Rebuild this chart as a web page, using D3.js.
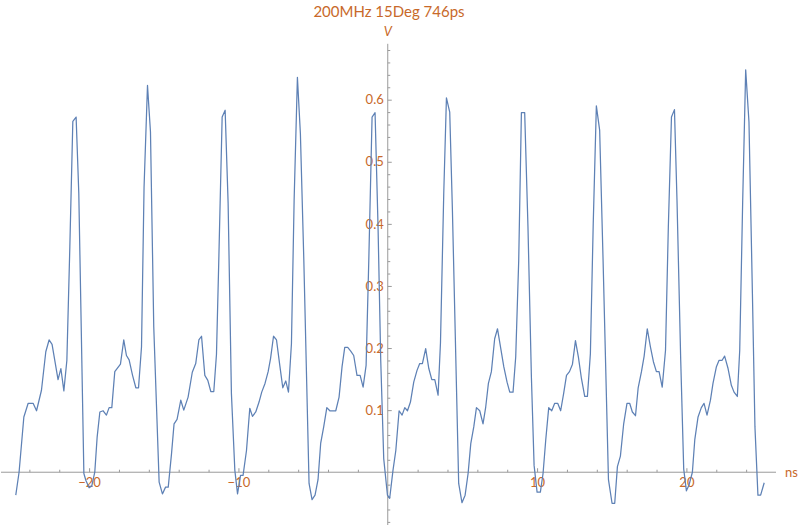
<!DOCTYPE html>
<html>
<head>
<meta charset="utf-8">
<script src="https://cdn.jsdelivr.net/npm/d3@7"></script>
<style>
  html, body { margin: 0; padding: 0; background: #fff; }
  svg { display: block; }
</style>
</head>
<body>
<svg id="chart" width="800" height="528"></svg>
<script>
// ---- data ----
const title = "200MHz 15Deg 746ps";
const xAxisLabel = "ns";
const yAxisLabel = "V";

const times = [-24.91,-24.69,-24.37,-24.08,-23.75,-23.52,-23.19,-22.90,-22.68,-22.48,-22.08,-21.89,-21.69,-21.49,-21.29,-21.09,-20.87,-20.69,-20.35,-20.22,-20.00,-19.82,-19.62,-19.46,-19.28,-19.06,-18.84,-18.66,-18.48,-18.28,-17.90,-17.68,-17.50,-17.32,-17.09,-16.87,-16.69,-16.49,-16.32,-16.09,-15.89,-15.67,-15.31,-15.09,-14.88,-14.70,-14.48,-14.31,-14.11,-13.86,-13.66,-13.37,-13.09,-12.86,-12.65,-12.47,-12.25,-12.05,-11.85,-11.65,-11.47,-11.32,-11.09,-10.89,-10.69,-10.47,-10.24,-10.06,-9.86,-9.69,-9.46,-9.24,-9.06,-8.84,-8.62,-8.44,-8.22,-8.01,-7.85,-7.65,-7.45,-7.23,-7.03,-6.83,-6.65,-6.45,-6.27,-6.05,-5.85,-5.62,-5.27,-5.07,-4.87,-4.67,-4.49,-4.29,-4.08,-3.88,-3.48,-3.26,-3.06,-2.88,-2.68,-2.48,-2.28,-2.06,-1.85,-1.65,-1.45,-1.27,-1.05,-0.85,-0.65,-0.47,-0.27,-0.02,0.13,0.35,0.54,0.76,0.96,1.14,1.32,1.52,1.74,1.96,2.14,2.32,2.54,2.75,2.95,3.15,3.37,3.53,3.75,3.93,4.15,4.33,4.75,4.97,5.18,5.38,5.56,5.76,5.94,6.16,6.38,6.56,6.74,6.94,7.16,7.35,7.55,7.77,7.99,8.17,8.39,8.57,8.77,8.95,9.17,9.39,9.62,9.80,10.00,10.22,10.40,10.58,10.78,10.98,11.18,11.38,11.58,11.78,11.97,12.17,12.37,12.57,12.77,12.97,13.19,13.37,13.57,13.76,13.97,14.19,14.42,14.78,15.02,15.20,15.38,15.58,15.80,16.02,16.20,16.38,16.59,16.77,16.99,17.17,17.38,17.59,17.79,17.99,18.17,18.38,18.60,18.79,19.00,19.20,19.37,19.62,19.82,20.00,20.17,20.40,20.56,20.78,21.00,21.18,21.38,21.61,21.78,22.01,22.18,22.38,22.56,22.79,23.01,23.19,23.41,23.57,23.77,23.97,24.19,24.42,24.59,24.79,24.97,25.21];

const volts = [-0.037,0.000,0.089,0.111,0.111,0.099,0.132,0.194,0.213,0.206,0.149,0.167,0.131,0.180,0.363,0.565,0.572,0.449,-0.002,-0.013,-0.025,-0.022,0.000,0.057,0.097,0.099,0.092,0.104,0.104,0.162,0.174,0.213,0.188,0.181,0.156,0.136,0.136,0.202,0.459,0.623,0.548,0.234,-0.016,-0.035,-0.024,-0.024,0.030,0.078,0.085,0.116,0.100,0.121,0.161,0.175,0.213,0.219,0.156,0.148,0.130,0.130,0.190,0.336,0.572,0.583,0.433,0.127,0.003,-0.035,-0.005,-0.005,0.035,0.103,0.090,0.097,0.113,0.129,0.143,0.162,0.183,0.219,0.213,0.172,0.136,0.147,0.129,0.207,0.438,0.636,0.545,0.341,-0.018,-0.044,-0.037,-0.012,0.047,0.073,0.104,0.099,0.099,0.121,0.170,0.201,0.201,0.195,0.188,0.156,0.156,0.137,0.172,0.341,0.572,0.579,0.395,0.180,0.022,-0.037,-0.042,0.003,0.035,0.099,0.092,0.104,0.099,0.113,0.145,0.164,0.175,0.175,0.199,0.167,0.149,0.149,0.124,0.208,0.449,0.603,0.580,0.422,-0.018,-0.049,-0.037,-0.002,0.046,0.073,0.104,0.099,0.078,0.105,0.143,0.162,0.215,0.231,0.202,0.170,0.145,0.129,0.129,0.186,0.341,0.579,0.579,0.395,0.153,0.011,-0.032,-0.032,-0.002,0.052,0.104,0.099,0.111,0.111,0.099,0.127,0.156,0.162,0.174,0.212,0.185,0.151,0.122,0.122,0.191,0.400,0.590,0.551,0.341,-0.012,-0.050,-0.050,0.009,0.026,0.078,0.111,0.111,0.097,0.091,0.136,0.162,0.187,0.231,0.202,0.178,0.162,0.162,0.137,0.196,0.395,0.572,0.584,0.438,0.180,0.005,-0.030,-0.021,0.000,0.052,0.089,0.104,0.111,0.092,0.116,0.143,0.170,0.180,0.180,0.187,0.167,0.140,0.129,0.122,0.196,0.438,0.648,0.564,0.288,0.073,-0.037,-0.037,-0.017];

const xMajorTicks = [-20, -10, 10, 20];
const xMinorTicks = [-24,-22,-18,-16,-14,-12,-8,-6,-4,-2,2,4,6,8,12,14,16,18,22,24];
const yMajorTicks = [0.1, 0.2, 0.3, 0.4, 0.5, 0.6];
const yMinorTicks = [-0.08,-0.06,-0.04,-0.02,0.02,0.04,0.06,0.08,0.12,0.14,0.16,0.18,0.22,0.24,0.26,0.28,0.32,0.34,0.36,0.38,0.42,0.44,0.46,0.48,0.52,0.54,0.56,0.58,0.62,0.64,0.66,0.68];

// ---- styling ----
const labelColor = "#c8692a";
const axisColor = "#9a9a9a";
const lineColor = "#5e81b5";
const fontFamily = "Lato, 'Open Sans', sans-serif";

const svg = d3.select("#chart");

const x = d3.scaleLinear().domain([-25.9, 26.0]).range([1, 776]);
const y = d3.scaleLinear().domain([-0.085, 0.69]).range([525, 43.8]);

// axis lines
svg.append("line")
  .attr("x1", x(-25.9)).attr("x2", x(26.0))
  .attr("y1", y(0)).attr("y2", y(0))
  .attr("stroke", axisColor).attr("stroke-width", 1);
svg.append("line")
  .attr("x1", x(0)).attr("x2", x(0))
  .attr("y1", y(-0.085)).attr("y2", y(0.69))
  .attr("stroke", axisColor).attr("stroke-width", 1);

function styleAxis(g) {
  g.select(".domain").remove();
  g.selectAll(".tick line").attr("stroke", axisColor);
  g.selectAll(".tick text")
    .attr("fill", labelColor)
    .style("font-family", fontFamily)
    .style("font-size", "13px");
}

// x axis: minor
svg.append("g")
  .attr("transform", `translate(0,${y(0)})`)
  .call(d3.axisBottom(x).tickValues(xMinorTicks).tickSize(-2.5).tickFormat(""))
  .call(styleAxis);
// x axis: major
svg.append("g")
  .attr("transform", `translate(0,${y(0)})`)
  .call(d3.axisBottom(x).tickValues(xMajorTicks).tickSize(-4).tickPadding(6).tickFormat(d3.format("d")))
  .call(styleAxis);

// y axis: minor
svg.append("g")
  .attr("transform", `translate(${x(0)},0)`)
  .call(d3.axisLeft(y).tickValues(yMinorTicks).tickSize(-2.5).tickFormat(""))
  .call(styleAxis);
// y axis: major
svg.append("g")
  .attr("transform", `translate(${x(0)},0)`)
  .call(d3.axisLeft(y).tickValues(yMajorTicks).tickSize(-4).tickPadding(4).tickFormat(d3.format(".1f")))
  .call(styleAxis);

// series line
const pts = times.map((t, i) => [t, volts[i]]);
svg.append("path")
  .datum(pts)
  .attr("fill", "none")
  .attr("stroke", lineColor)
  .attr("stroke-width", 1.25)
  .attr("stroke-linejoin", "round")
  .attr("d", d3.line().x(d => x(d[0])).y(d => y(d[1])));

// axis labels
svg.append("text")
  .attr("x", x(26.0) + 9).attr("y", y(0) + 5)
  .attr("fill", labelColor)
  .style("font-family", fontFamily).style("font-size", "13px")
  .text(xAxisLabel);
svg.append("text")
  .attr("x", x(0)).attr("y", 36)
  .attr("text-anchor", "middle")
  .attr("fill", labelColor)
  .style("font-family", fontFamily).style("font-size", "13px")
  .style("font-style", "italic")
  .text(yAxisLabel);

// title
svg.append("text")
  .attr("x", 389).attr("y", 17)
  .attr("text-anchor", "middle")
  .attr("fill", labelColor)
  .style("font-family", fontFamily).style("font-size", "15px")
  .text(title);
</script>
</body>
</html>
